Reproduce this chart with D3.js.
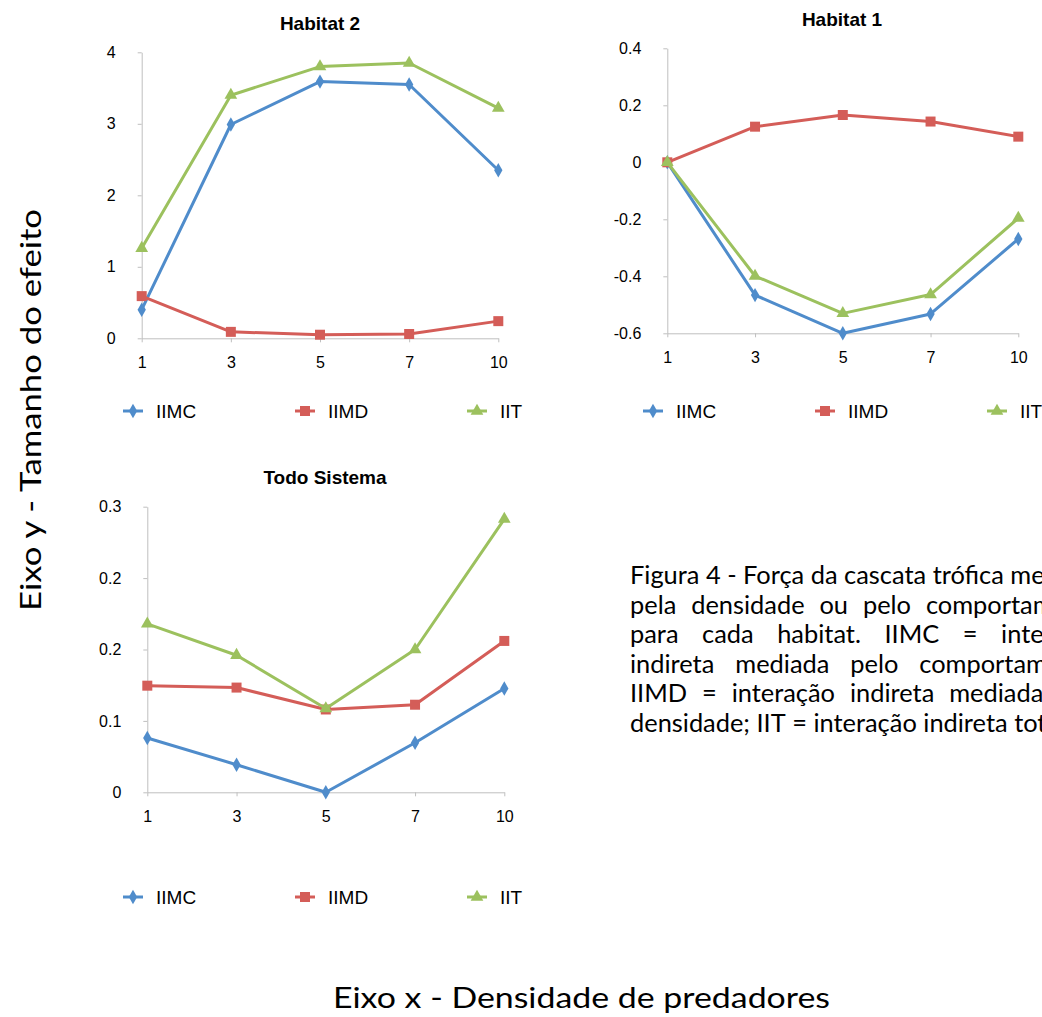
<!DOCTYPE html>
<html>
<head>
<meta charset="utf-8">
<script src="https://cdn.jsdelivr.net/npm/d3@7"></script>
<style>
  body { margin: 0; background: #fff; overflow: hidden; }
  svg { display: block; }
  .tick text { font-family: "Liberation Sans", Arial, sans-serif; font-size: 16px; fill: #000; }
  .domain, .tick line { stroke: #bfbfbf; }
</style>
</head>
<body>
<svg id="chart" width="1042" height="1017"></svg>
<script>
// data
const densities = ["1", "3", "5", "7", "10"];
const seriesNames = ["IIMC", "IIMD", "IIT"];
const seriesColors = ["#4f8ccb", "#d45d58", "#9cc15e"];

const hab2IIMC = [0.40, 2.99, 3.59, 3.55, 2.35];
const hab2IIMD = [0.59, 0.09, 0.05, 0.06, 0.24];
const hab2IIT = [1.26, 3.40, 3.80, 3.85, 3.22];

const hab1IIMC = [0, -0.466, -0.60, -0.532, -0.269];
const hab1IIMD = [0, 0.125, 0.166, 0.143, 0.090];
const hab1IIT = [0, -0.399, -0.530, -0.464, -0.196];

const todoIIMC = [0.057, 0.029, 0, 0.052, 0.109];
const todoIIMD = [0.112, 0.110, 0.087, 0.092, 0.159];
const todoIIT = [0.177, 0.144, 0.088, 0.150, 0.287];

const hab2Ticks = [0, 1, 2, 3, 4];
const hab2TickLabels = ["0", "1", "2", "3", "4"];
const hab1Ticks = [-0.6, -0.4, -0.2, 0, 0.2, 0.4];
const hab1TickLabels = ["-0.6", "-0.4", "-0.2", "0", "0.2", "0.4"];
const todoTicks = [0, 0.075, 0.15, 0.225, 0.3];
const todoTickLabels = ["0", "0.1", "0.2", "0.2", "0.3"];

const captionLines = [
  "Figura 4 - Força da cascata trófica mediada",
  "pela densidade ou pelo comportamento",
  "para cada habitat. IIMC = interação",
  "indireta mediada pelo comportamento;",
  "IIMD = interação indireta mediada pela",
  "densidade; IIT = interação indireta total."
];

const svg = d3.select("#chart");

const panels = [
  { title: "Habitat 2", series: [hab2IIMC, hab2IIMD, hab2IIT], ticks: hab2Ticks, labels: hab2TickLabels,
    domain: [0, 4], x: [141.7, 498.3], y: [338.3, 52.3], titleX: 320, titleY: 30, legendX: 123, legendY: 411 },
  { title: "Habitat 1", series: [hab1IIMC, hab1IIMD, hab1IIT], ticks: hab1Ticks, labels: hab1TickLabels,
    domain: [-0.6, 0.4], x: [667.3, 1018.3], y: [333.3, 48.3], titleX: 842, titleY: 26, legendX: 643, legendY: 411 },
  { title: "Todo Sistema", series: [todoIIMC, todoIIMD, todoIIT], ticks: todoTicks, labels: todoTickLabels,
    domain: [0, 0.3], x: [147.3, 504.3], y: [792.3, 506.7], titleX: 325, titleY: 484, legendX: 123, legendY: 897 }
];

const symbols = [
  d3.symbol().type(d3.symbolDiamond).size(60),
  d3.symbol().type(d3.symbolSquare).size(100),
  d3.symbol().type(d3.symbolTriangle).size(70)
];

panels.forEach(p => {
  const g = svg.append("g");
  const x = d3.scalePoint().domain(densities).range(p.x);
  const y = d3.scaleLinear().domain(p.domain).range(p.y);

  g.append("g")
    .attr("transform", `translate(${p.x[0]},0)`)
    .call(d3.axisLeft(y).tickValues(p.ticks).tickSize(4).tickSizeOuter(0).tickPadding(22)
      .tickFormat((d, i) => p.labels[i]));

  g.append("g")
    .attr("transform", `translate(0,${p.y[0]})`)
    .call(d3.axisBottom(x).tickSize(4).tickSizeOuter(0).tickPadding(14));

  g.append("text")
    .attr("x", p.titleX).attr("y", p.titleY)
    .attr("text-anchor", "middle")
    .style("font-family", "'Liberation Sans', Arial, sans-serif")
    .style("font-weight", "bold").style("font-size", "19px")
    .text(p.title);

  const line = d3.line().x((d, i) => x(densities[i])).y(d => y(d));

  p.series.forEach((vals, s) => {
    g.append("path")
      .datum(vals)
      .attr("d", line)
      .attr("fill", "none")
      .attr("stroke", seriesColors[s])
      .attr("stroke-width", 3)
      .attr("stroke-linejoin", "round");

    g.selectAll(null)
      .data(vals)
      .join("path")
      .attr("d", symbols[s])
      .attr("transform", (d, i) => `translate(${x(densities[i])},${y(d)})`)
      .attr("fill", seriesColors[s]);
  });

  // legend
  seriesNames.forEach((name, s) => {
    const lx = p.legendX + s * 172;
    const lg = g.append("g").attr("transform", `translate(${lx},${p.legendY})`);
    lg.append("line").attr("x1", 0).attr("x2", 20)
      .attr("stroke", seriesColors[s]).attr("stroke-width", 3);
    lg.append("path").attr("d", symbols[s]).attr("transform", "translate(10,0)")
      .attr("fill", seriesColors[s]);
    lg.append("text").attr("x", 33).attr("dy", "0.36em")
      .style("font-family", "'Liberation Sans', Arial, sans-serif")
      .style("font-size", "19px")
      .text(name);
  });
});

// axis titles
svg.append("text")
  .attr("transform", "translate(41,410) rotate(-90)")
  .attr("text-anchor", "middle")
  .attr("textLength", 402).attr("lengthAdjust", "spacingAndGlyphs")
  .style("font-family", "Lato, sans-serif").style("font-size", "29px")
  .text("Eixo y - Tamanho do efeito");

svg.append("text")
  .attr("x", 333).attr("y", 1008)
  .attr("textLength", 497).attr("lengthAdjust", "spacingAndGlyphs")
  .style("font-family", "Lato, sans-serif").style("font-size", "29px")
  .text("Eixo x - Densidade de predadores");

// justified caption, the right part runs past the page edge as in the figure
const capX = 630, capY = 584, capStep = 29.6, space = 6.5;
const capLines = captionLines.map((ln, li) => {
  const words = ln.split(" ");
  const texts = words.map(w => svg.append("text")
    .attr("y", capY + li * capStep)
    .style("font-family", "Lato, sans-serif").style("font-size", "25.4px")
    .text(w));
  const widths = texts.map(t => t.node().getComputedTextLength());
  return { texts, widths };
});
const first = capLines[0];
const capW = d3.sum(first.widths) + space * (first.widths.length - 1);
capLines.forEach((c, li) => {
  const last = li === capLines.length - 1;
  const gap = last ? space : (capW - d3.sum(c.widths)) / (c.widths.length - 1);
  let cx = capX;
  c.texts.forEach((t, i) => { t.attr("x", cx); cx += c.widths[i] + gap; });
});
</script>
</body>
</html>
